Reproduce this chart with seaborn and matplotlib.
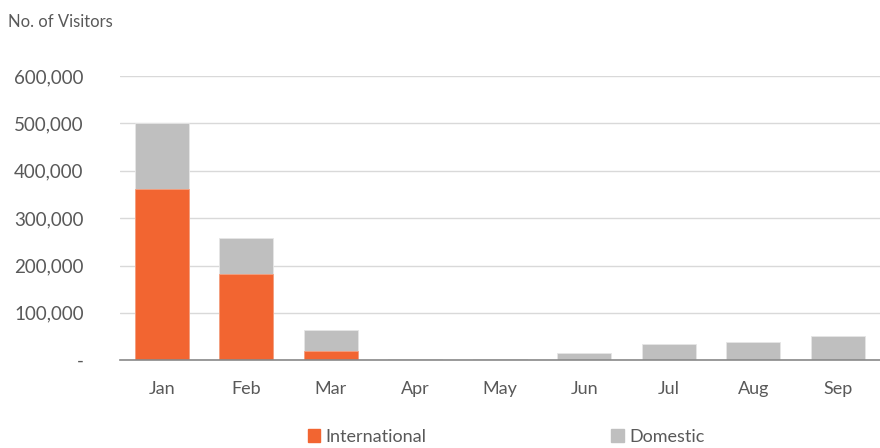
import matplotlib
matplotlib.use("Agg")
import matplotlib.pyplot as plt
import matplotlib.ticker as mticker
from matplotlib.patches import Patch
import pandas as pd
import seaborn as sns

# data
months = ["Jan", "Feb", "Mar", "Apr", "May", "Jun", "Jul", "Aug", "Sep"]
international = [361000, 183000, 20000, 500, 400, 0, 0, 0, 0]
domestic = [139000, 76000, 43000, 1500, 1400, 16000, 34000, 38000, 51000]

orange = "#F26531"
grey = "#BFBFBF"
txt = "#595959"

df = pd.DataFrame({"month": months, "International": international, "Domestic": domestic})
df["Total"] = df["International"] + df["Domestic"]

sns.set_style("white")
plt.rcParams["font.family"] = ["Lato", "DejaVu Sans"]

fig = plt.figure(figsize=(8.8, 4.48), dpi=100)
ax = fig.add_axes([0.136, 0.196, 0.864, 0.634])

# stacked bars: total in grey, international on top of it from zero
sns.barplot(data=df, x="month", y="Total", color=grey, width=0.64, saturation=1, ax=ax,
            order=months, edgecolor="#E6E6E6", linewidth=0.6)
sns.barplot(data=df, x="month", y="International", color=orange, width=0.64, saturation=1, ax=ax,
            order=months, edgecolor="#F5A080", linewidth=0.6)

ax.set_ylim(0, 600000)
ax.set_xlim(-0.5, len(months) - 0.5)
ax.yaxis.set_major_locator(mticker.MultipleLocator(100000))
ax.yaxis.set_major_formatter(mticker.FuncFormatter(lambda v, p: "-" if v == 0 else f"{int(v):,}"))
ax.grid(axis="y", color="#D9D9D9", linewidth=1)
ax.set_axisbelow(True)
for s in ["top", "right", "left"]:
    ax.spines[s].set_visible(False)
ax.spines["bottom"].set_color("#898989")
ax.spines["bottom"].set_linewidth(1.2)
ax.tick_params(axis="y", length=0, pad=26, labelsize=13.5, labelcolor=txt)
ax.tick_params(axis="x", length=0, pad=15, labelsize=13, labelcolor=txt)
ax.set_xlabel("")
ax.set_ylabel("")

fig.text(0.009, 0.952, "No. of Visitors", fontsize=12, color=txt, va="center")

handles = [Patch(color=orange, label="International"), Patch(color=grey, label="Domestic")]
fig.legend(handles=handles, loc="center", bbox_to_anchor=(0.575, 0.025), ncol=2, frameon=False,
           fontsize=13, labelcolor=txt, handlelength=0.7, handleheight=0.7, handletextpad=0.3,
           columnspacing=10.2)

fig.savefig("out.png", dpi=100)
